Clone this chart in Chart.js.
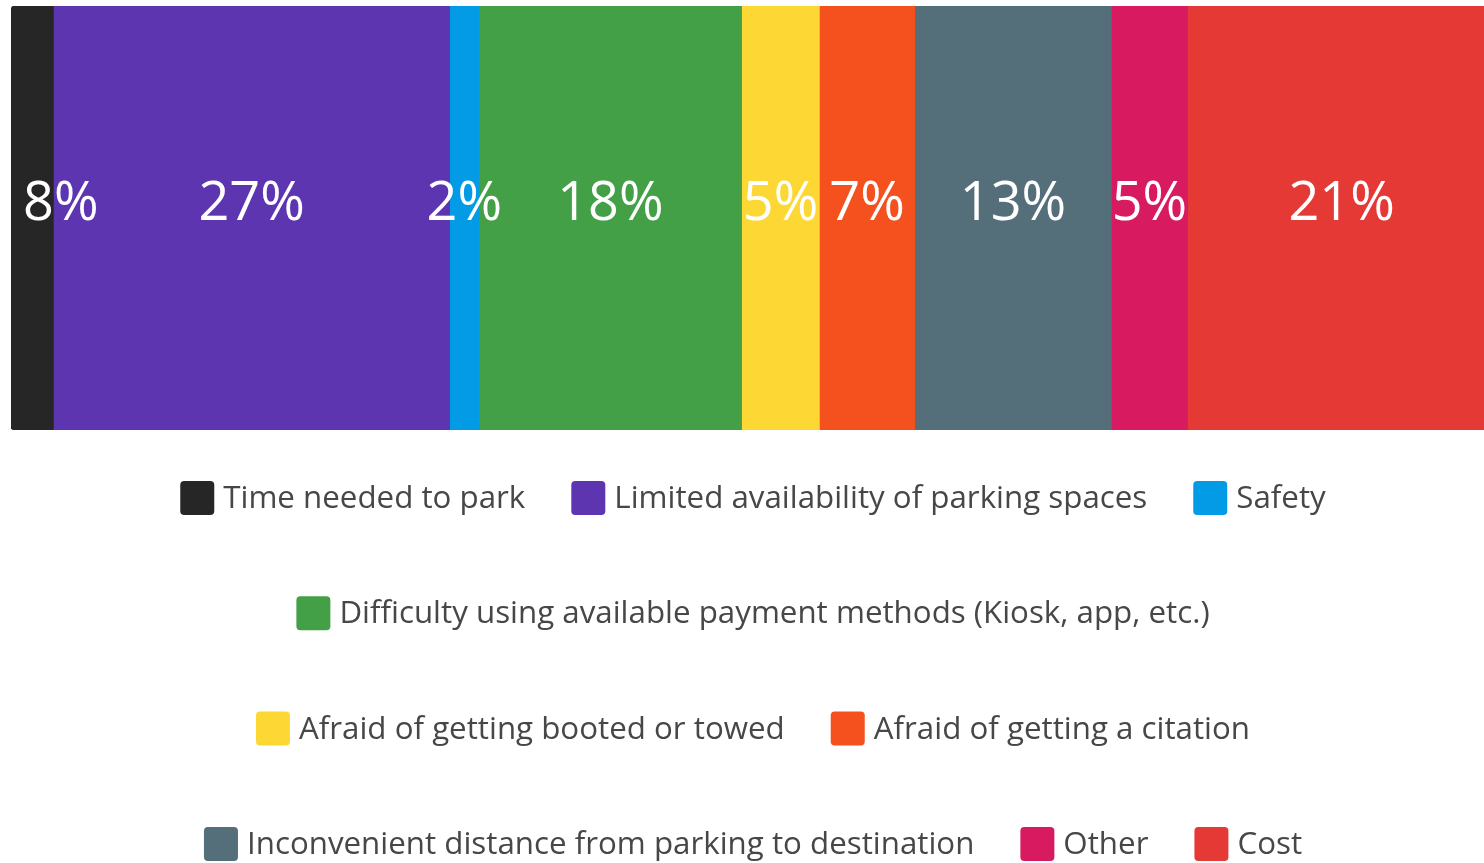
<!DOCTYPE html>
<html>
<head>
<meta charset="utf-8">
<script src="https://cdn.jsdelivr.net/npm/chart.js@4.4.1/dist/chart.umd.min.js"></script>
<style>
  html, body { margin: 0; padding: 0; background: #fff; overflow: hidden; }
  #wrap { width: 1484px; height: 863px; }
</style>
</head>
<body>
<div id="wrap"><canvas id="parking"></canvas></div>
<script>
// answers (legend order)
const categories = [
  'Time needed to park',
  'Limited availability of parking spaces',
  'Safety',
  'Difficulty using available payment methods (Kiosk, app, etc.)',
  'Afraid of getting booted or towed',
  'Afraid of getting a citation',
  'Inconvenient distance from parking to destination',
  'Other',
  'Cost'
]
// segment lengths (percent)
const shares = [2.9, 27, 2, 17.9, 5.3, 6.5, 13.4, 5.2, 21]
// the text printed on each segment
const shareLabels = ['8%', '27%', '2%', '18%', '5%', '7%', '13%', '5%', '21%']
const colors = ['#262626', '#5e35b1', '#039be5', '#43a047', '#fdd835', '#f4511e', '#546e7a', '#d81b60', '#e53935']
// how the legend breaks into lines
const legendRows = [[0, 1, 2], [3], [4, 5], [6, 7, 8]]

const datasets = categories.map((name, i) => ({
  label: name,
  data: [shares[i]],
  backgroundColor: colors[i],
  borderWidth: 0,
  borderSkipped: false,
  borderRadius: i === 0 ? {topLeft: 4, bottomLeft: 4, topRight: 0, bottomRight: 0} : 0
}))

// white percent text on every segment
const segmentText = {
  id: 'segmentText',
  afterDatasetsDraw(chart) {
    const ctx = chart.ctx
    const area = chart.chartArea
    ctx.save()
    ctx.font = '54px "Open Sans"'
    ctx.fillStyle = '#ffffff'
    ctx.textAlign = 'center'
    ctx.textBaseline = 'middle'
    chart.data.datasets.forEach((ds, i) => {
      const bar = chart.getDatasetMeta(i).data[0]
      let x = (bar.x + bar.base) / 2
      const w = ctx.measureText(shareLabels[i]).width
      if (x - w / 2 < area.left + 12) x = area.left + 12 + w / 2
      ctx.fillText(shareLabels[i], x, bar.y - 13)
    })
    ctx.restore()
  }
}

// legend in fixed rows below the bar
const rowLegend = {
  id: 'rowLegend',
  afterDraw(chart) {
    const ctx = chart.ctx
    const box = 34, gap = 9, spacing = 46
    const firstRow = 498, rowStep = 115.3
    const centre = 753
    ctx.save()
    ctx.font = '31.3px "Open Sans"'
    ctx.textBaseline = 'middle'
    ctx.textAlign = 'left'
    legendRows.forEach((row, r) => {
      const widths = row.map(i => box + gap + ctx.measureText(categories[i]).width)
      const total = widths.reduce((a, b) => a + b, 0) + spacing * (row.length - 1)
      let x = centre - total / 2
      const y = firstRow + r * rowStep
      row.forEach((i, k) => {
        ctx.fillStyle = colors[i]
        ctx.beginPath()
        ctx.roundRect(x, y - box / 2, box, box, 4)
        ctx.fill()
        ctx.fillStyle = '#474747'
        ctx.fillText(categories[i], x + box + gap, y + 1)
        x += widths[k] + spacing
      })
    })
    ctx.restore()
  }
}

const chart = new Chart(document.getElementById('parking'), {
  type: 'bar',
  data: { labels: [''], datasets: datasets },
  options: {
    indexAxis: 'y',
    responsive: true,
    maintainAspectRatio: false,
    animation: false,
    layout: { padding: { top: 6, left: 11, right: 0, bottom: 433 } },
    datasets: { bar: { barPercentage: 1, categoryPercentage: 1 } },
    scales: {
      x: { stacked: true, min: 0, max: 100.4, display: false },
      y: { stacked: true, display: false }
    },
    plugins: {
      legend: { display: false },
      tooltip: { enabled: false }
    }
  },
  plugins: [segmentText, rowLegend]
})
</script>
</body>
</html>
